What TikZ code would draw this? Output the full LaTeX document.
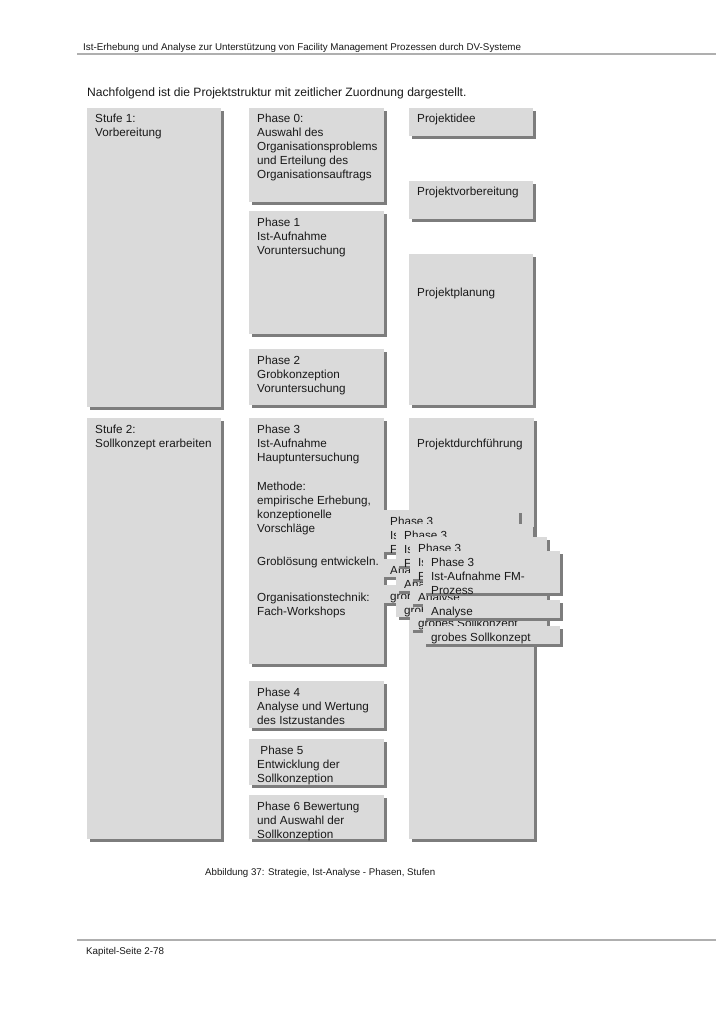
\documentclass[tikz,border=0pt]{standalone}
\usepackage{fontspec}
\setmainfont{Liberation Sans}
\usetikzlibrary{shadows}
\definecolor{boxfill}{RGB}{218,218,218}
\definecolor{shadowc}{RGB}{125,125,125}
\definecolor{rulec}{RGB}{175,175,175}
\definecolor{txtc}{RGB}{25,25,25}
\newcommand{\lines}[1]{\begin{tabular}[t]{@{}l@{}}#1\end{tabular}}
\begin{document}
\begin{tikzpicture}[x=1pt,y=-1pt,
  pbox/.style={fill=boxfill, draw=none, inner sep=0pt, anchor=north west,
    drop shadow={shadow xshift=3pt,shadow yshift=-3pt,fill=shadowc,opacity=1}},
  btxt/.style={anchor=base west, inner sep=0pt, font=\fontsize{11.7}{14}\selectfont, text=txtc},
  ptxt/.style={anchor=base west, inner sep=0pt, text=txtc},
]
\useasboundingbox[fill=white] (0,0) rectangle (724,1024);

% header / footer rules
\coordinate (hl1) at (77,54); \coordinate (hl2) at (716,54);
\coordinate (fl1) at (77,940); \coordinate (fl2) at (716,940);
\draw[rulec, line width=1.2pt] (hl1) -- (hl2);
\draw[rulec, line width=1.2pt] (fl1) -- (fl2);

\node[ptxt, font=\fontsize{9.8}{11}\selectfont] (hdr) at (83,50.5) {Ist-Erhebung und Analyse zur Unterstützung von Facility Management Prozessen durch DV-Systeme};
\node[ptxt, font=\fontsize{12.1}{14}\selectfont] (intro) at (87,97) {Nachfolgend ist die Projektstruktur mit zeitlicher Zuordnung dargestellt.};
\node[ptxt, font=\fontsize{9.7}{11}\selectfont] (cap) at (205,875.5) {Abbildung 37: Strategie, Ist-Analyse - Phasen, Stufen};
\node[ptxt, font=\fontsize{9.8}{11}\selectfont] (foot) at (86,954.5) {Kapitel-Seite 2-78};

% column 1
\node[pbox, minimum width=134pt, minimum height=299pt] (s1) at (87,108) {};
\node[btxt] (s1t) at ([shift={(8pt,-15pt)}]s1.north west) {\lines{Stufe 1:\\Vorbereitung}};
\node[pbox, minimum width=134pt, minimum height=421pt] (s2) at (87,418) {};
\node[btxt] (s2t) at ([shift={(8pt,-15pt)}]s2.north west) {\lines{Stufe 2:\\Sollkonzept erarbeiten}};

% column 2
\node[pbox, minimum width=135pt, minimum height=94pt] (p0) at (249,108) {};
\node[btxt] (p0t) at ([shift={(8pt,-15pt)}]p0.north west) {\lines{Phase 0:\\Auswahl des\\Organisationsproblems\\und Erteilung des\\Organisationsauftrags}};
\node[pbox, minimum width=135pt, minimum height=123pt] (p1) at (249,211) {};
\node[btxt] (p1t) at ([shift={(8pt,-15pt)}]p1.north west) {\lines{Phase 1\\Ist-Aufnahme\\Voruntersuchung}};
\node[pbox, minimum width=135pt, minimum height=56pt] (p2) at (249,349) {};
\node[btxt] (p2t) at ([shift={(8pt,-15pt)}]p2.north west) {\lines{Phase 2\\Grobkonzeption\\Voruntersuchung}};
\node[pbox, minimum width=135pt, minimum height=246pt] (p3) at (249,418) {};
\node[btxt] (p3t) at ([shift={(8pt,-15pt)}]p3.north west) {\lines{Phase 3\\Ist-Aufnahme\\Hauptuntersuchung\\[15pt]Methode:\\empirische Erhebung,\\konzeptionelle\\Vorschläge\\[19pt]Groblösung entwickeln.\\[22pt]Organisationstechnik:\\Fach-Workshops}};
\node[pbox, minimum width=135pt, minimum height=47pt] (p4) at (249,681) {};
\node[btxt] (p4t) at ([shift={(8pt,-15pt)}]p4.north west) {\lines{Phase 4\\Analyse und Wertung\\des Istzustandes}};
\node[pbox, minimum width=135pt, minimum height=46pt] (p5) at (249,739) {};
\node[btxt] (p5t) at ([shift={(8pt,-15pt)}]p5.north west) {\lines{\ Phase 5\\Entwicklung der\\Sollkonzeption}};
\node[pbox, minimum width=135pt, minimum height=44pt] (p6) at (249,795) {};
\node[btxt] (p6t) at ([shift={(8pt,-15pt)}]p6.north west) {\lines{Phase 6 Bewertung\\und Auswahl der\\Sollkonzeption}};

% column 3
\node[pbox, minimum width=124pt, minimum height=28pt] (pi) at (409,108) {};
\node[btxt] (pit) at ([shift={(8pt,-15pt)}]pi.north west) {\lines{Projektidee}};
\node[pbox, minimum width=124pt, minimum height=38pt] (pv) at (409,181) {};
\node[btxt] (pvt) at ([shift={(8pt,-15pt)}]pv.north west) {\lines{Projektvorbereitung}};
\node[pbox, minimum width=124pt, minimum height=151pt] (pp) at (409,254) {};
\node[btxt] (ppt) at ([shift={(8pt,-15pt)}]pp.north west) {\lines{\mbox{}\\\mbox{}\\Projektplanung}};
\node[pbox, minimum width=125pt, minimum height=421pt] (pd) at (409,418) {};
\node[btxt] (pdt) at ([shift={(8pt,-15pt)}]pd.north west) {\lines{\mbox{}\\Projektdurchführung}};

% cascaded FM boxes
\foreach \i/\gx/\gy in {1/382/510, 2/396/524, 3/410/537}{
  \node[pbox, minimum width=137pt, minimum height=42pt] (g\i h) at (\gx,\gy) {};
  \node[btxt] (g\i ht) at ([shift={(8pt,-15pt)}]g\i h.north west) {\lines{Phase 3\\Ist-Aufnahme\\FM-Prozess}};
  \node[pbox, minimum width=137pt, minimum height=18pt] (g\i a) at (\gx,\gy+49) {};
  \node[btxt] (g\i at) at ([shift={(8pt,-15pt)}]g\i a.north west) {\lines{Analyse}};
  \node[pbox, minimum width=137pt, minimum height=18pt] (g\i g) at (\gx,\gy+75) {};
  \node[btxt] (g\i gt) at ([shift={(8pt,-15pt)}]g\i g.north west) {\lines{grobes Sollkonzept}};
}
\node[pbox, minimum width=137pt, minimum height=42pt] (g4h) at (423,551) {};
\node[btxt] (g4ht) at ([shift={(8pt,-15pt)}]g4h.north west) {\lines{Phase 3\\Ist-Aufnahme FM-\\Prozess}};
\node[pbox, minimum width=137pt, minimum height=18pt] (g4a) at (423,600) {};
\node[btxt] (g4at) at ([shift={(8pt,-15pt)}]g4a.north west) {\lines{Analyse}};
\node[pbox, minimum width=137pt, minimum height=18pt] (g4g) at (423,626) {};
\node[btxt] (g4gt) at ([shift={(8pt,-15pt)}]g4g.north west) {\lines{grobes Sollkonzept}};
\end{tikzpicture}
\end{document}
